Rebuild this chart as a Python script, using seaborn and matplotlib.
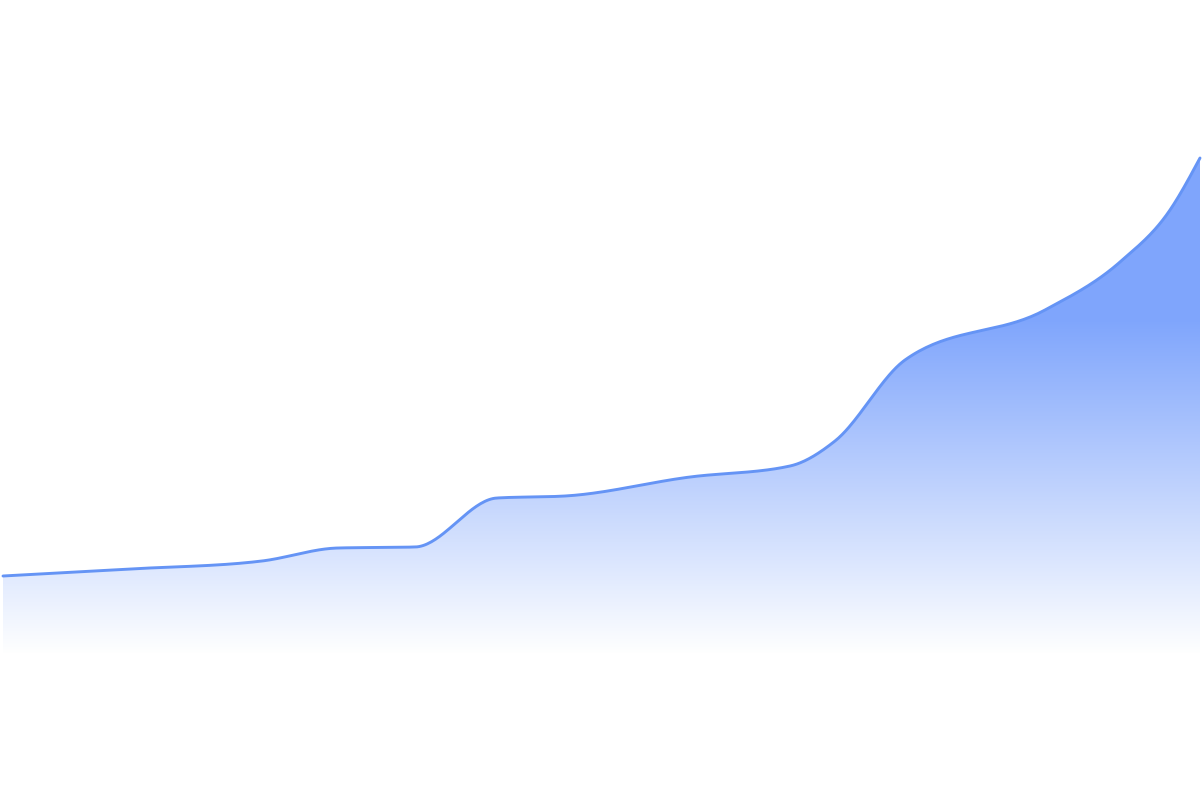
import numpy as np
import pandas as pd
import seaborn as sns
import matplotlib
matplotlib.use("Agg")
import matplotlib.pyplot as plt
from matplotlib.patches import Polygon

# series (x = day index, y = value)
days = [3, 130, 262, 338, 415, 497, 565, 690, 790, 835, 905, 1045, 1120, 1170, 1200]
values = [84, 91, 99, 112, 113, 162, 164, 183, 194, 219, 300, 350, 398, 450, 502]

line_color = "#6594f5"
fill_color = (0.50, 0.65, 0.99)


def monotone_slopes(x, y):
    x = np.asarray(x, float)
    y = np.asarray(y, float)
    h = np.diff(x)
    s = np.diff(y) / h
    t = np.zeros(len(x))
    for i in range(1, len(x) - 1):
        p = (s[i - 1] * h[i] + s[i] * h[i - 1]) / (h[i - 1] + h[i])
        t[i] = (np.sign(s[i - 1]) + np.sign(s[i])) * min(abs(s[i - 1]), abs(s[i]), 0.5 * abs(p))
    t[0] = (3 * s[0] - t[1]) / 2
    t[-1] = (3 * s[-1] - t[-2]) / 2
    return t


def smooth(x, y, n=40):
    t = monotone_slopes(x, y)
    xs, ys = [], []
    for i in range(len(x) - 1):
        h = x[i + 1] - x[i]
        u = np.linspace(0, 1, n, endpoint=(i == len(x) - 2))
        h00 = 2 * u**3 - 3 * u**2 + 1
        h10 = u**3 - 2 * u**2 + u
        h01 = -2 * u**3 + 3 * u**2
        h11 = u**3 - u**2
        xs.append(x[i] + u * h)
        ys.append(h00 * y[i] + h10 * h * t[i] + h01 * y[i + 1] + h11 * h * t[i + 1])
    return np.concatenate(xs), np.concatenate(ys)


sx, sy = smooth(days, values)
df = pd.DataFrame({"day": sx, "value": sy})

sns.set_style("white")
fig = plt.figure(figsize=(12.03, 8.08), dpi=100)
ax = fig.add_axes([0, 0, 1, 1])

# vertical gradient fill under the curve
top, bottom = max(values), 5
yy = np.linspace(0, top, 400)
alpha = np.clip((yy - bottom) / (340 - bottom), 0, 1)
img = np.zeros((len(yy), 2, 4))
img[..., 0] = fill_color[0]
img[..., 1] = fill_color[1]
img[..., 2] = fill_color[2]
img[..., 3] = alpha[:, None]
im = ax.imshow(img, extent=[days[0], days[-1], 0, top], origin="lower",
               aspect="auto", interpolation="bilinear", zorder=1)
poly = Polygon(np.column_stack([np.r_[sx, sx[-1], sx[0]], np.r_[sy, 0, 0]]),
               closed=True, transform=ax.transData, facecolor="none", edgecolor="none")
ax.add_patch(poly)
im.set_clip_path(poly)

sns.lineplot(data=df, x="day", y="value", ax=ax, color=line_color, linewidth=2.1,
             sort=False, estimator=None, zorder=3)
ax.set_xlim(0, 1203)
ax.set_ylim(-148, 660)
ax.axis("off")

fig.savefig("out.png", dpi=100, facecolor="white")
